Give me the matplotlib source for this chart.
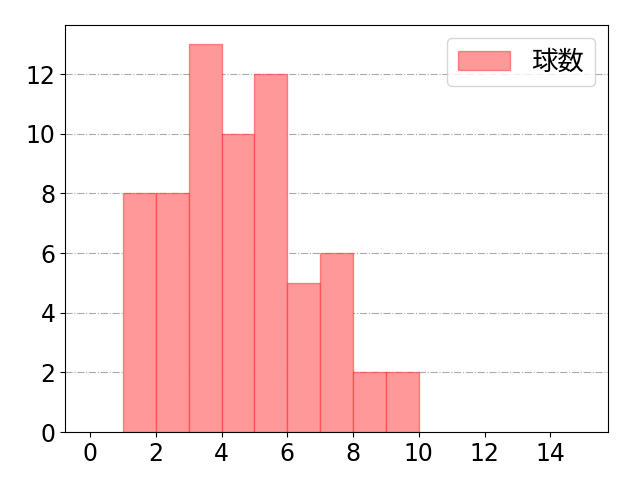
import matplotlib.pyplot as plt

plt.rcParams['font.family'] = ['DejaVu Sans', 'Noto Sans CJK JP']

# 投球数の分布 (bin width 1)
bin_lefts = [1, 2, 3, 4, 5, 6, 7, 8, 9]
counts = [8, 8, 13, 10, 12, 5, 6, 2, 2]
label = "球数"

fig, ax = plt.subplots(figsize=(6.4, 4.8), dpi=100)
ax.bar(bin_lefts, counts, width=1, align='edge', label=label,
       facecolor=(1, 0.6, 0.6), edgecolor=(1, 0, 0, 0.4), linewidth=1)
ax.set_axisbelow(True)
ax.grid(axis='y', linestyle='-.', color='#aaaaaa')
ax.set_xlim(-0.75, 15.75)
ax.set_ylim(0, 13.65)
ax.set_xticks([0, 2, 4, 6, 8, 10, 12, 14])
ax.set_yticks([0, 2, 4, 6, 8, 10, 12])
ax.tick_params(labelsize=17)
leg = ax.legend(prop={'family': ['Noto Sans CJK JP'], 'size': 19})
fig.subplots_adjust(left=0.102, right=0.95, top=0.948, bottom=0.1)
fig.savefig('out.png')
